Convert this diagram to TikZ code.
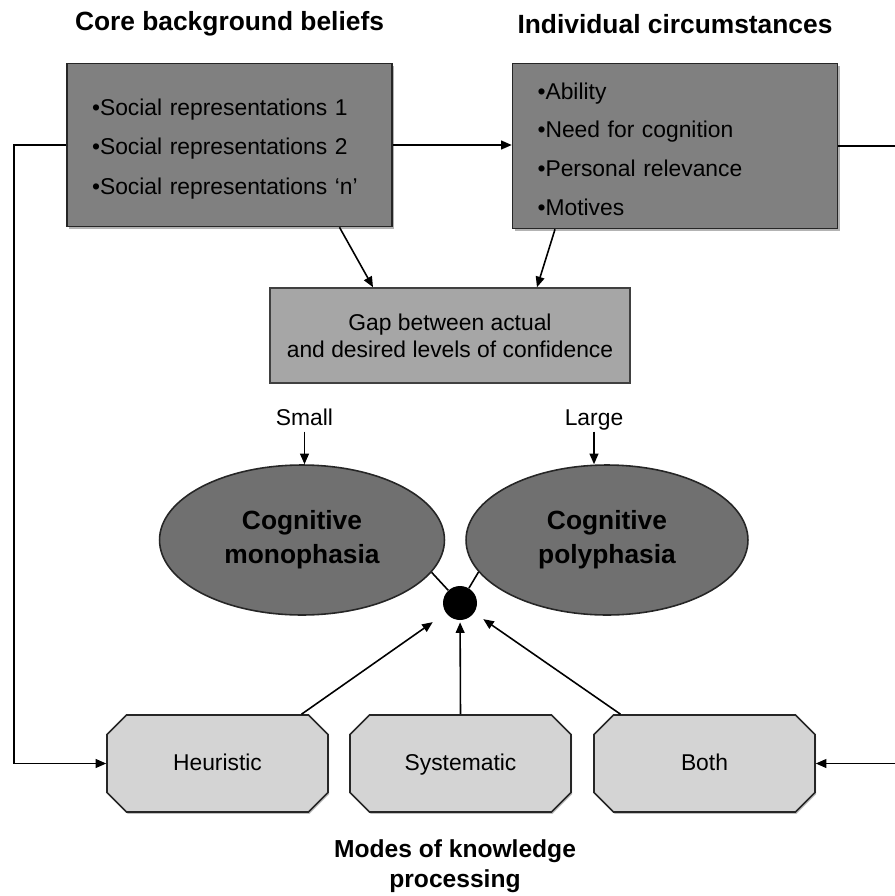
\documentclass[tikz,border=0pt]{standalone}
\usepackage{fontspec}
\setmainfont{Liberation Sans}
\usetikzlibrary{arrows.meta,calc,shadows,shapes.geometric,shapes.misc}
\definecolor{boxgray}{RGB}{128,128,128}
\definecolor{gapgray}{RGB}{166,166,166}
\definecolor{ellgray}{RGB}{112,112,112}
\definecolor{octgray}{RGB}{212,212,212}
\tikzset{
	lines/.style={line width=0.9pt},
	arr/.style={lines,-{Triangle[length=6pt,width=5pt]}},
	title/.style={font=\fontsize{15}{18}\selectfont\bfseries},
	plain/.style={font=\fontsize{13}{15}\selectfont,text height=0.85em,text depth=0pt},
	beliefbox/.style={draw=black!85,lines,fill=boxgray,minimum width=6.5cm,minimum height=3.26cm,
		text width=5.5cm,inner xsep=0.5cm,align=left,
		drop shadow={shadow xshift=1.3pt,shadow yshift=-1.3pt,opacity=0.6}},
	gapbox/.style={draw=black!75,lines,fill=gapgray,minimum width=7.2cm,minimum height=1.9cm,
		align=center,font=\fontsize{13}{15.3}\selectfont},
	phasia/.style={ellipse,draw=black!85,lines,fill=ellgray,minimum width=5.7cm,minimum height=3cm,
		align=center,font=\fontsize{15}{19.3}\selectfont\bfseries},
	octbox/.style={chamfered rectangle,chamfered rectangle xsep=0.54cm,draw=black!85,lines,fill=octgray,
		minimum width=4.42cm,minimum height=1.94cm,plain,
		drop shadow={shadow xshift=0.6pt,shadow yshift=-1pt,opacity=0.5}},
}

\begin{document}
\begin{tikzpicture}[x=0.02cm,y=-0.02cm]
	%%%%% START %%%%%
	\useasboundingbox (0,0) rectangle (895,896);
	
	\node[title] (coretitle) at (229.5,24) {Core background beliefs};
	\node[title] (indivtitle) at (675,24) {Individual circumstances};
	
	\node[beliefbox,font=\fontsize{13}{22.7}\selectfont] (core) at (229.5,145) {\rule{0pt}{14pt}\textbullet Social representations 1\\\textbullet Social representations 2\\\textbullet Social representations `n'};
	\node[beliefbox,minimum height=3.3cm,font=\fontsize{13}{22.1}\selectfont] (indiv) at (675,146) {\rule{0pt}{13pt}\textbullet Ability\\\textbullet Need for cognition\\\textbullet Personal relevance\\\textbullet Motives};
	
	\node[gapbox] (gap) at (450,335.5) {Gap between actual\\and desired levels of confidence};
	
	\node[plain] (small) at (304.5,418) {Small};
	\node[plain] (large) at (594,418) {Large};
	
	\node[phasia] (mono) at (302,540) {Cognitive\\monophasia};
	\node[phasia,minimum width=5.64cm] (poly) at (607,540) {Cognitive\\polyphasia};
	
	\node[circle,fill=black,minimum size=0.68cm,inner sep=0pt] (dot) at (460,603) {};
	
	\node[octbox] (heur) at (217.5,763.5) {Heuristic};
	\node[octbox] (sys) at (460.5,763.5) {Systematic};
	\node[octbox] (both) at (704.5,763.5) {Both};
	
	\node[title,font=\fontsize{14}{17}\selectfont\bfseries,align=center] (modes) at (455,866) {Modes of knowledge\\processing};
	
	\coordinate (leftrail) at (14,0);
	\coordinate (rightrail) at (897,0);
	
	% top row and feedback rails
	\draw[arr] (core.east) -- (core.east -| indiv.west);
	\draw[arr] (core.west) -- (core.west -| leftrail) |- (heur.west);
	\draw[arr] (indiv.east) -- (indiv.east -| rightrail) |- (both.east);
	
	% into the gap
	\draw[arr] ([xshift=2.2cm]core.south) -- ([xshift=-1.54cm]gap.north);
	\draw[arr] ([xshift=-2.4cm]indiv.south) -- ([xshift=1.74cm]gap.north);
	
	\draw[arr] (small.south) -- (small.south |- mono.north);
	\draw[arr] (large.south) -- (large.south |- poly.north);
	
	% junction
	\draw[lines] (mono.-14) -- (dot);
	\draw[lines] (poly.194) -- (dot);
	\draw[arr,shorten >=0.32cm] ($(heur.north)+(84,0)$) -- (dot);
	\draw[arr,shorten >=0.04cm] (sys.north) -- (dot);
	\draw[arr,shorten >=0.22cm] ($(both.north)+(-84,0)$) -- (dot);
	%%%%% END %%%%%
\end{tikzpicture}
\end{document}
